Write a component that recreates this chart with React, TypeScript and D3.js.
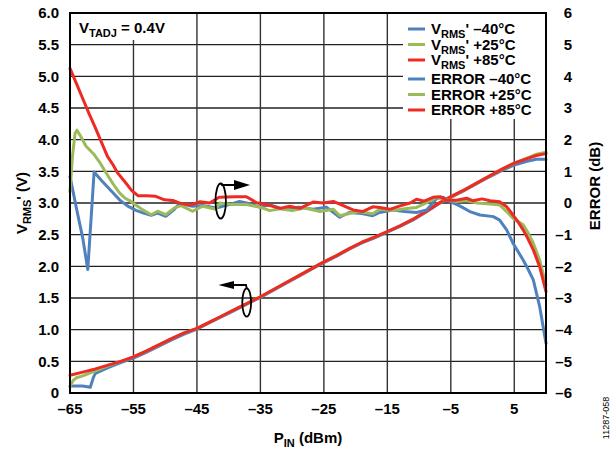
import React from "react";
import * as d3 from "d3";

// ---------- data ----------
const X_TICKS = [-65, -55, -45, -35, -25, -15, -5, 5];
const X_DOMAIN = [-65, 10];
const Y_LEFT_TICKS = [0, 0.5, 1, 1.5, 2, 2.5, 3, 3.5, 4, 4.5, 5, 5.5, 6];
const Y_LEFT_LABELS = ["0", "0.5", "1.0", "1.5", "2.0", "2.5", "3.0", "3.5", "4.0", "4.5", "5.0", "5.5", "6.0"];
const Y_RIGHT_TICKS = [-6, -5, -4, -3, -2, -1, 0, 1, 2, 3, 4, 5, 6];
const Y_RIGHT_LABELS = ["–6", "–5", "–4", "–3", "–2", "–1", "0", "1", "2", "3", "4", "5", "6"];

// V_RMS' (left axis, V) vs P_IN (dBm)
const VRMS_M40: [number, number][] = [
  [-65, 0.11], [-64, 0.11], [-63, 0.11], [-62.3, 0.1], [-61.8, 0.09], [-61.3, 0.25], [-61, 0.31],
  [-59, 0.4], [-57, 0.48], [-55, 0.55], [-53, 0.64], [-51, 0.74], [-49, 0.84], [-47, 0.93],
  [-45, 1.01], [-43, 1.11], [-41, 1.21], [-39, 1.31], [-37, 1.41], [-35, 1.51], [-33, 1.62],
  [-31, 1.73], [-29, 1.84], [-27, 1.95], [-25, 2.06], [-23, 2.16], [-21, 2.27], [-19, 2.37],
  [-17, 2.45], [-15, 2.54], [-13, 2.63], [-11, 2.73], [-9, 2.85], [-7, 2.98], [-5, 3.09],
  [-3, 3.19], [-1, 3.3], [1, 3.41], [3, 3.51], [5, 3.6], [7, 3.66], [8.5, 3.69], [10, 3.69],
];
const VRMS_P25: [number, number][] = [
  [-65, 0.1], [-64.5, 0.2], [-64, 0.24], [-63, 0.27], [-61.5, 0.33], [-60, 0.39],
  [-59, 0.43], [-57, 0.5], [-55, 0.57], [-53, 0.66], [-51, 0.76], [-49, 0.86], [-47, 0.95],
  [-45, 1.02], [-43, 1.12], [-41, 1.22], [-39, 1.32], [-37, 1.42], [-35, 1.52], [-33, 1.63],
  [-31, 1.74], [-29, 1.85], [-27, 1.96], [-25, 2.07], [-23, 2.17], [-21, 2.28], [-19, 2.38],
  [-17, 2.46], [-15, 2.55], [-13, 2.64], [-11, 2.74], [-9, 2.86], [-7, 2.99], [-5, 3.1],
  [-3, 3.2], [-1, 3.31], [1, 3.42], [3, 3.53], [5, 3.63], [7, 3.71], [8.5, 3.77], [10, 3.8],
];
const VRMS_P85: [number, number][] = [
  [-65, 0.28], [-63, 0.33], [-61, 0.38], [-59, 0.44], [-57, 0.5], [-55, 0.57], [-53, 0.66],
  [-51, 0.76], [-49, 0.86], [-47, 0.95], [-45, 1.02], [-43, 1.12], [-41, 1.22], [-39, 1.32],
  [-37, 1.42], [-35, 1.52], [-33, 1.63], [-31, 1.74], [-29, 1.85], [-27, 1.96], [-25, 2.07],
  [-23, 2.17], [-21, 2.28], [-19, 2.38], [-17, 2.46], [-15, 2.55], [-13, 2.64], [-11, 2.74],
  [-9, 2.86], [-7, 2.99], [-5, 3.1], [-3, 3.2], [-1, 3.31], [1, 3.42], [3, 3.53], [5, 3.63],
  [7, 3.7], [8.5, 3.75], [10, 3.78],
];

// ERROR (right axis, dB) vs P_IN (dBm)
const ERR_M40: [number, number][] = [
  [-65, 0.84], [-64, -0.15], [-63, -1.1], [-62.2, -2.1], [-61.2, 0.98], [-60, 0.7], [-58.6, 0.4],
  [-57.2, 0.1], [-55.9, -0.1], [-54.6, -0.23], [-53.4, -0.32], [-52.2, -0.39], [-51.2, -0.32],
  [-49.9, -0.42], [-48.6, -0.21], [-47.8, -0.02], [-45.7, -0.1], [-44.1, -0.08], [-42, -0.16],
  [-39.9, -0.05], [-38.3, 0.05], [-37.2, 0], [-35.1, -0.13], [-33.5, -0.06], [-31.2, -0.2],
  [-29, -0.13], [-26.7, -0.2], [-24.6, -0.13], [-22.5, -0.45], [-21, -0.3], [-19, -0.33],
  [-17.3, -0.4], [-16.2, -0.3], [-14.1, -0.22], [-12.3, -0.27], [-10.4, -0.3], [-8.8, -0.22],
  [-7.2, 0.15], [-6.2, 0.18], [-5.1, 0.04], [-3.6, -0.09], [-2, -0.27], [-0.4, -0.38],
  [1.7, -0.43], [2.7, -0.54], [3.8, -0.85], [4.8, -1.27], [6.4, -1.8], [7.2, -2.1], [8, -2.43],
  [9, -3.27], [10, -4.43],
];
const ERR_P25: [number, number][] = [
  [-65, 0.35], [-64.6, 1.5], [-64.2, 2.2], [-63.9, 2.3], [-63.3, 2.1], [-62.5, 1.8], [-61.2, 1.53],
  [-60.2, 1.25], [-59.3, 0.95], [-58.2, 0.6], [-57.2, 0.32], [-56.3, 0.15], [-55.4, 0.05],
  [-53.6, -0.21], [-52.2, -0.37], [-51.2, -0.26], [-49.9, -0.37], [-48.6, -0.16], [-47.5, -0.08],
  [-45.7, -0.26], [-44.1, -0.1], [-42, -0.2], [-41.4, 0], [-39.5, -0.05], [-37.2, -0.05],
  [-35.1, -0.13], [-33.5, -0.24], [-31.9, -0.18], [-30, -0.24], [-28, -0.16], [-25.6, -0.27],
  [-23.5, -0.2], [-22.5, -0.4], [-21, -0.33], [-19.5, -0.27], [-17.3, -0.34], [-16.2, -0.2],
  [-14.1, -0.24], [-12, -0.17], [-10.4, -0.14], [-8.8, 0.01], [-7.2, 0.18], [-5.7, 0.1],
  [-4.1, 0.05], [-2.5, 0.08], [-0.9, 0], [1.2, -0.03], [2.7, -0.06], [3.8, -0.27], [4.8, -0.48],
  [6.4, -0.69], [7.2, -0.95], [8, -1.27], [9, -1.8], [10, -2.59],
];
const ERR_P85: [number, number][] = [
  [-65, 4.25], [-64, 3.78], [-63, 3.3], [-62, 2.82], [-61, 2.37], [-60, 1.9], [-59.1, 1.47],
  [-58.2, 1.2], [-57.5, 0.95], [-56.2, 0.63], [-55.3, 0.4], [-54.3, 0.23], [-53, 0.23],
  [-51.5, 0.21], [-50.1, 0.1], [-48.8, 0.08], [-47.5, -0.02], [-45.9, -0.06], [-44.5, 0.04],
  [-43, 0], [-41.5, 0.18], [-39, 0.2], [-37.2, 0.2], [-35.6, 0.01], [-33.5, -0.08],
  [-31.9, -0.17], [-30.4, -0.1], [-28.8, -0.17], [-26.7, 0.03], [-25.1, 0], [-23.5, 0.05],
  [-21.5, -0.12], [-20.4, -0.22], [-18.9, -0.27], [-17.3, -0.12], [-16.2, -0.14], [-14.6, -0.2],
  [-13, -0.09], [-11.4, 0], [-10.4, 0.12], [-9.2, 0.06], [-7.8, 0.18], [-6.7, 0.2], [-5.7, 0.09],
  [-4.1, 0.09], [-2.5, 0.15], [-1.5, 0.07], [-0.1, 0.13], [1.2, 0.07], [2.7, 0.04], [3.8, -0.12],
  [4.8, -0.38], [5.6, -0.6], [6.4, -0.85], [7.2, -1.15], [8, -1.48], [9, -2.01], [10, -2.8],
];

const LEGEND_TEMPS = ["–40°C", "+25°C", "+85°C"];

// ---------- styles ----------
const BLUE = "#4f81bd";
const GREEN = "#9bbb59";
const RED = "#ee2a24";
const COLORS = [BLUE, GREEN, RED];
const FONT = "'Liberation Sans', Arial, Helvetica, sans-serif";

export default function App() {
  const W = 615, H = 450;
  const L = 70, R = 546, T = 13, B = 393;
  const x = d3.scaleLinear().domain(X_DOMAIN).range([L, R]);
  const yL = d3.scaleLinear().domain([0, 6]).range([B, T]);
  const yR = d3.scaleLinear().domain([-6, 6]).range([B, T]);

  const lineL = d3.line<[number, number]>().x((d) => x(d[0])).y((d) => yL(d[1]));
  const lineR = d3.line<[number, number]>().x((d) => x(d[0])).y((d) => yR(d[1]));

  const vSeries = [VRMS_M40, VRMS_P25, VRMS_P85];
  const eSeries = [ERR_M40, ERR_P25, ERR_P85];

  const fs = 15;
  const legendRowsY = [29, 44.5, 60, 79, 94.5, 110];

  return (
    <svg width={W} height={H} style={{ position: "absolute", left: 0, top: 0, background: "#fff" }}
      fontFamily={FONT} fontWeight="bold">
      <rect x={0} y={0} width={W} height={H} fill="#fff" />
      {/* grid */}
      {Y_LEFT_TICKS.map((t) => (
        <line key={"h" + t} x1={L} x2={R} y1={yL(t)} y2={yL(t)} stroke="#222" strokeWidth={1.4} />
      ))}
      {X_TICKS.map((t) => (
        <line key={"v" + t} x1={x(t)} x2={x(t)} y1={T} y2={B} stroke="#333" strokeWidth={1.4} />
      ))}

      {/* white boxes for labels */}
      <rect x={L + 1} y={T + 1} width={106} height={26} fill="#fff" />
      <rect x={403} y={T + 1} width={R - 403 - 1} height={105} fill="#fff" />

      {/* curves */}
      {vSeries.map((s, i) => (
        <path key={"v" + i} d={lineL(s) || ""} fill="none" stroke={COLORS[i]} strokeWidth={3}
          strokeLinejoin="round" strokeLinecap="round" />
      ))}
      {eSeries.map((s, i) => (
        <path key={"e" + i} d={lineR(s) || ""} fill="none" stroke={COLORS[i]} strokeWidth={3}
          strokeLinejoin="round" strokeLinecap="round" />
      ))}

      {/* frame */}
      <rect x={L} y={T} width={R - L} height={B - T} fill="none" stroke="#000" strokeWidth={2} />

      {/* left ticks */}
      {Y_LEFT_TICKS.map((t, i) => (
        <text key={"lt" + t} x={59} y={yL(t)} dy="0.36em" textAnchor="end" fontSize={fs}>
          {Y_LEFT_LABELS[i]}
        </text>
      ))}
      {/* right ticks */}
      {Y_RIGHT_TICKS.map((t, i) => (
        <text key={"rt" + t} x={572} y={yR(t)} dy="0.36em" textAnchor="end" fontSize={fs}>
          {Y_RIGHT_LABELS[i]}
        </text>
      ))}
      {/* x ticks */}
      {X_TICKS.map((t) => (
        <text key={"xt" + t} x={x(t)} y={409} dy="0.36em" textAnchor="middle" fontSize={fs}>
          {t < 0 ? "–" + Math.abs(t) : String(t)}
        </text>
      ))}

      {/* axis titles */}
      <text x={308} y={443} textAnchor="middle" fontSize={fs}>
        P<tspan fontSize={11} dy={4}>IN</tspan><tspan dy={-4}> (dBm)</tspan>
      </text>
      <text transform="translate(27,203) rotate(-90)" textAnchor="middle" fontSize={fs}>
        V<tspan fontSize={11} dy={4}>RMS</tspan><tspan dy={-4}>' (V)</tspan>
      </text>
      <text transform="translate(600,186) rotate(-90)" textAnchor="middle" fontSize={fs}>
        ERROR (dB)
      </text>
      <text transform="translate(609,418) rotate(-90)" textAnchor="middle" fontSize={9} fontWeight="normal">
        11287-058
      </text>

      {/* V_TADJ label */}
      <text x={79} y={33} fontSize={fs}>
        V<tspan fontSize={11} dy={4}>TADJ</tspan><tspan dy={-4}> = 0.4V</tspan>
      </text>

      {/* legend */}
      {legendRowsY.map((yy, i) => {
        const c = COLORS[i % 3];
        const isV = i < 3;
        return (
          <g key={"lg" + i}>
            <line x1={408} x2={425} y1={yy} y2={yy} stroke={c} strokeWidth={3} />
            {isV ? (
              <text x={431} y={yy} dy="0.36em" fontSize={fs}>
                V<tspan fontSize={11} dy={4}>RMS</tspan><tspan dy={-4}>' {LEGEND_TEMPS[i % 3]}</tspan>
              </text>
            ) : (
              <text x={431} y={yy} dy="0.36em" fontSize={fs}>
                ERROR {LEGEND_TEMPS[i % 3]}
              </text>
            )}
          </g>
        );
      })}

      {/* annotations */}
      <ellipse cx={220.7} cy={201} rx={5.2} ry={17.5} fill="none" stroke="#000" strokeWidth={1.8} />
      <path d="M220.7,183.5 L222,185 L236,185" fill="none" stroke="#000" strokeWidth={1.8} />
      <path d="M234,180 L250,185 L234,190 Z" fill="#000" />
      <ellipse cx={246.7} cy={302.5} rx={4.4} ry={14.2} fill="none" stroke="#000" strokeWidth={1.8} />
      <path d="M246.7,288.3 L246,285 L232,285" fill="none" stroke="#000" strokeWidth={1.8} />
      <path d="M234,281 L218.5,285 L234,289 Z" fill="#000" />
    </svg>
  );
}
